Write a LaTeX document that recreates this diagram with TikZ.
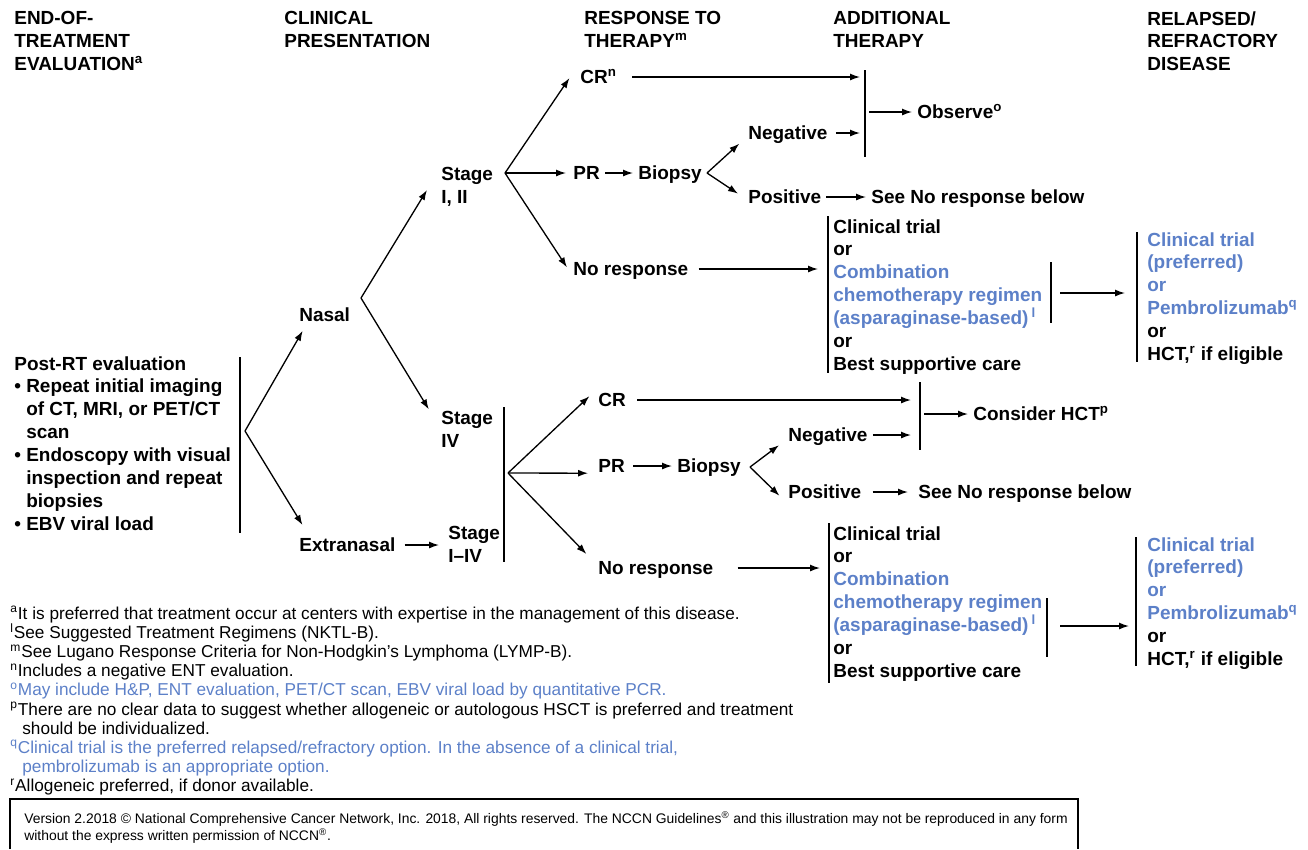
\documentclass[tikz,border=0pt]{standalone}
\usepackage{fontspec}
\setmainfont{Liberation Sans}
\usepackage{xcolor}
\usepackage{tikz}
\usetikzlibrary{arrows.meta}
\definecolor{nccnblue}{RGB}{92,128,200}
\newcommand{\indt}{\phantom{•\ }}

\begin{document}
\begin{tikzpicture}[
  x=0.2mm,y=-0.2mm,
  lbl/.style={font=\fontsize{10.8}{13}\selectfont\bfseries,inner xsep=1mm,inner ysep=0pt,text height=7.8pt,text depth=0pt,anchor=west},
  stack/.style={font=\fontsize{10.8}{13}\selectfont\bfseries,align=left,inner sep=0pt,anchor=north west},
  vbar/.style={line width=0.75pt},
  arrow/.style={-{Latex[length=2mm,width=1.4mm]},line width=0.75pt},
  fn/.style={font=\fontsize{9.8}{10.9}\selectfont,align=left,inner sep=0pt,anchor=north west}
]
\useasboundingbox (0,0) rectangle (1308,849);

% column headings
\node[stack] (hEnd) at (14,11) {END-OF-\\TREATMENT\\EVALUATION\textsuperscript{a}};
\node[stack] (hClin) at (284,11) {CLINICAL\\PRESENTATION};
\node[stack] (hResp) at (584,11) {RESPONSE TO\\THERAPY\textsuperscript{m}};
\node[stack] (hAdd) at (833,11) {ADDITIONAL\\THERAPY};
\node[stack] (hRel) at (1147,11) {RELAPSED/\\REFRACTORY\\DISEASE};

% evaluation and presentation
\node[stack] (post) at (14,356) {Post-RT evaluation\\• Repeat initial imaging\\\indt of CT, MRI, or PET/CT\\\indt scan\\• Endoscopy with visual\\\indt inspection and repeat\\\indt biopsies\\• EBV viral load};
\coordinate (bar0t) at (240,357);
\coordinate (bar0b) at (240,533);
\coordinate (br0) at (245,431);
\node[lbl] (nasal) at (294,315) {Nasal};
\node[lbl] (extra) at (294,545) {Extranasal};
\draw[vbar] (bar0t) -- (bar0b);
\draw[arrow,shorten >=2mm] (br0) -- (nasal.203);
\draw[arrow,shorten >=3mm] (br0) -- (extra.169);

% stages
\coordinate (brN) at (361,298);
\node[stack] (st12) at (441,167) {Stage\\I, II};
\node[stack] (st4) at (441,411) {Stage\\IV};
\node[stack] (st14) at (448,526) {Stage\\I–IV};
\draw[arrow,shorten >=5.4mm] (brN) -- (st12.north west);
\draw[arrow,shorten >=4.7mm] (brN) -- (st4.west);
\draw[arrow,shorten <=0.8mm,shorten >=1.8mm] (extra.east) -- (extra.east -| st14.west);

% stage I, II responses
\coordinate (br12) at (505,173);
\node[lbl] (crA) at (575,77) {CR\textsuperscript{n}};
\node[lbl] (prA) at (568,173) {PR};
\node[lbl] (bioA) at (633,173) {Biopsy};
\coordinate (brbA) at (707,173);
\node[lbl] (negA) at (743,133) {Negative};
\node[lbl] (posA) at (743,197) {Positive};
\node[lbl] (seeA) at (866,197) {See No response below};
\node[lbl] (nrA) at (568,269) {No response};
\coordinate (barAt) at (865,70);
\coordinate (barAb) at (865,157);
\coordinate (barAm) at (865,112);
\node[lbl] (obs) at (912,112) {Observe\textsuperscript{o}};
\draw[arrow,shorten >=2mm] (br12) -- (crA.north west);
\draw[arrow,shorten >=0.4mm] (br12) -- (prA.west);
\draw[arrow,shorten >=0.4mm] (br12) -- (nrA.west);
\draw[arrow] (prA) -- (bioA);
\draw[arrow,shorten >=1mm] (brbA) -- (negA.south west);
\draw[arrow,shorten >=1.2mm] (brbA) -- (posA.west);
\draw[vbar] (barAt) -- (barAb);
\draw[arrow,shorten <=2mm,shorten >=1mm] (crA.east) -- (crA.east -| barAt);
\draw[arrow,shorten <=0.6mm,shorten >=1mm] (negA.east) -- (negA.east -| barAt);
\draw[arrow,shorten <=0.8mm] (barAm) -- (obs.west);
\draw[arrow] (posA) -- (seeA);

% no response after stage I, II
\coordinate (barBt) at (828,216);
\coordinate (barBb) at (828,373);
\node[stack] (addA) at (833,219) {Clinical trial\\or\\\textcolor{nccnblue}{Combination}\\\textcolor{nccnblue}{chemotherapy regimen}\\\textcolor{nccnblue}{(asparaginase-based)\,\textsuperscript{l}}\\or\\Best supportive care};
\coordinate (barCt) at (1051,262);
\coordinate (barCb) at (1051,323);
\coordinate (barCm) at (1051,293);
\coordinate (barDt) at (1137,232);
\coordinate (barDb) at (1137,362);
\coordinate (barDm) at (1137,293);
\node[stack] (relA) at (1147,232) {\textcolor{nccnblue}{Clinical trial}\\\textcolor{nccnblue}{(preferred)}\\\textcolor{nccnblue}{or}\\\textcolor{nccnblue}{Pembrolizumab\textsuperscript{q}}\\or\\HCT,\textsuperscript{r} if eligible};
\draw[arrow,shorten <=1mm,shorten >=2mm] (nrA.east) -- (nrA.east -| barBt);
\draw[vbar] (barBt) -- (barBb);
\draw[vbar] (barCt) -- (barCb);
\draw[vbar] (barDt) -- (barDb);
\draw[arrow,shorten <=1.8mm,shorten >=2.4mm] (barCm) -- (barDm);

% stage IV / I-IV responses
\coordinate (barEt) at (504,407);
\coordinate (barEb) at (504,562);
\coordinate (br4) at (508,473);
\node[lbl] (crB) at (593,400) {CR};
\node[lbl] (prB) at (593,466) {PR};
\node[lbl] (bioB) at (672,466) {Biopsy};
\coordinate (brbB) at (750,467);
\node[lbl] (negB) at (783,435) {Negative};
\node[lbl] (posB) at (783,492) {Positive};
\node[lbl] (seeB) at (913,492) {See No response below};
\node[lbl] (nrB) at (593,568) {No response};
\coordinate (barFt) at (920,382);
\coordinate (barFb) at (920,450);
\coordinate (barFm) at (920,414);
\node[lbl] (cons) at (968,414) {Consider HCT\textsuperscript{p}};
\draw[vbar] (barEt) -- (barEb);
\draw[arrow,shorten >=1mm] (br4) -- (crB.north west);
\draw[arrow,shorten >=1mm] (br4) -- (prB.south west);
\draw[arrow,shorten >=1.9mm] (br4) -- (nrB.north west);
\draw[arrow,shorten <=0.6mm] (prB) -- (bioB);
\draw[arrow,shorten >=1mm] (brbB) -- (negB.south west);
\draw[arrow,shorten >=1mm] (brbB) -- (posB.south west);
\draw[vbar] (barFt) -- (barFb);
\draw[arrow,shorten <=1.2mm,shorten >=1.8mm] (crB.east) -- (crB.east -| barFt);
\draw[arrow,shorten >=1.8mm] (negB.east) -- (negB.east -| barFt);
\draw[arrow,shorten <=0.8mm] (barFm) -- (cons.west);
\draw[arrow,shorten <=1.2mm,shorten >=1mm] (posB) -- (seeB);

% no response after stage IV / I-IV
\coordinate (barGt) at (829,523);
\coordinate (barGb) at (829,683);
\node[stack] (addB) at (833,526) {Clinical trial\\or\\\textcolor{nccnblue}{Combination}\\\textcolor{nccnblue}{chemotherapy regimen}\\\textcolor{nccnblue}{(asparaginase-based)\,\textsuperscript{l}}\\or\\Best supportive care};
\coordinate (barHt) at (1047,598);
\coordinate (barHb) at (1047,657);
\coordinate (barHm) at (1047,626);
\coordinate (barIt) at (1136,537);
\coordinate (barIb) at (1136,666);
\coordinate (barIm) at (1136,626);
\node[stack] (relB) at (1147,537) {\textcolor{nccnblue}{Clinical trial}\\\textcolor{nccnblue}{(preferred)}\\\textcolor{nccnblue}{or}\\\textcolor{nccnblue}{Pembrolizumab\textsuperscript{q}}\\or\\HCT,\textsuperscript{r} if eligible};
\draw[arrow,shorten <=3.8mm,shorten >=1.8mm] (nrB.east) -- (nrB.east -| barGt);
\draw[vbar] (barGt) -- (barGb);
\draw[vbar] (barHt) -- (barHb);
\draw[vbar] (barIt) -- (barIb);
\draw[arrow,shorten <=2.6mm,shorten >=1.4mm] (barHm) -- (barIm);

% footnotes
\node[fn] (notes) at (10,606) {\textsuperscript{a}It is preferred that treatment occur at centers with expertise in the management of this disease.\\
\textsuperscript{l}See Suggested Treatment Regimens (NKTL-B).\\
\textsuperscript{m}See Lugano Response Criteria for Non-Hodgkin’s Lymphoma (LYMP-B).\\
\textsuperscript{n}Includes a negative ENT evaluation.\\
\textcolor{nccnblue}{\textsuperscript{o}May include H\&P, ENT evaluation, PET/CT scan, EBV viral load by quantitative PCR.}\\
\textsuperscript{p}There are no clear data to suggest whether allogeneic or autologous HSCT is preferred and treatment\\
\hspace*{2.4mm}should be individualized.\\
\textcolor{nccnblue}{\textsuperscript{q}Clinical trial is the preferred relapsed/refractory option. In the absence of a clinical trial,}\\
\textcolor{nccnblue}{\hspace*{2.4mm}pembrolizumab is an appropriate option.}\\
\textsuperscript{r}Allogeneic preferred, if donor available.};

% version box
\draw[line width=1pt] (10,849) -- (10,799) -- (1078,799) -- (1078,849);
\node[anchor=north west,inner sep=0pt,align=left,font=\fontsize{7.9}{9.7}\selectfont] (ftr) at (24,811) {Version 2.2018 © National Comprehensive Cancer Network, Inc. 2018, All rights reserved. The NCCN Guidelines\textsuperscript{®} and this illustration may not be reproduced in any form\\without the express written permission of NCCN\textsuperscript{®}.};
\end{tikzpicture}
\end{document}
